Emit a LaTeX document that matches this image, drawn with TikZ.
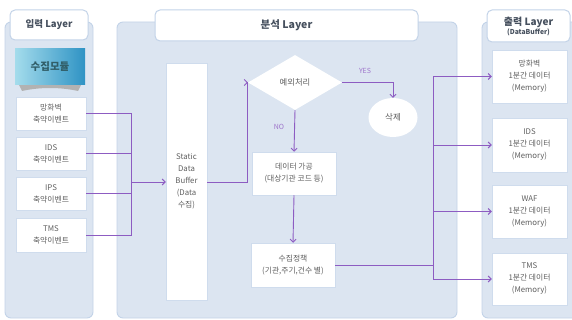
\documentclass[tikz,border=0pt]{standalone}
\usepackage{fontspec}
\setmainfont{Noto Sans CJK KR}
\usetikzlibrary{shapes.geometric,shadows,arrows.meta}
\definecolor{panelbg}{HTML}{DCE5F1}
\definecolor{panelbd}{HTML}{C3D3E8}
\definecolor{lineC}{HTML}{8D5CC2}
\definecolor{textC}{HTML}{5F5F5F}
\definecolor{titleC}{HTML}{46505E}
\definecolor{modL}{HTML}{A4DCEC}
\definecolor{modR}{HTML}{2F93C4}
\begin{document}
\begin{tikzpicture}[x=1pt,y=-1pt,
  panel/.style={draw=panelbd,fill=panelbg,rounded corners=6pt,line width=0.9pt},
  titlebox/.style={draw=panelbd,fill=white,rounded corners=5pt,line width=1pt,text=titleC,align=center,inner sep=0pt},
  wbox/.style={draw=panelbd!80,fill=white,line width=0.5pt,align=center,text=textC,inner sep=0pt,
     font=\fontsize{7.8}{12}\selectfont,
     drop shadow={shadow xshift=1.3pt,shadow yshift=-1.3pt,fill=black!40,opacity=0.6}},
  conn/.style={draw=lineC,line width=0.9pt},
  arr/.style={conn,-{Straight Barb[length=3pt,width=6pt]}},
  lbl/.style={text=lineC!85,font=\fontsize{7}{8}\selectfont,inner sep=0pt}
]
\useasboundingbox (0,0) rectangle (572,320);
% panels
\draw[panel] (5,22) rectangle (93,318);
\draw[panel] (117,22) rectangle (457,318);
\draw[panel] (482,22) rectangle (578,318);
% titles
\node[titlebox,minimum width=78pt,minimum height=30pt,font=\bfseries\fontsize{9.5}{11}\selectfont] (tL) at (49,25) {입력 Layer};
\node[titlebox,minimum width=263pt,minimum height=31pt,font=\bfseries\fontsize{10.5}{12}\selectfont] (tM) at (286.5,25.5) {분석 Layer};
\node[titlebox,minimum width=83pt,minimum height=32pt] (tR) at (528.5,26) {{\bfseries\fontsize{10}{11}\selectfont 출력 Layer}\\[-3pt]{\bfseries\fontsize{6.8}{8}\selectfont (DataBuffer)}};
% module
\fill[black!30] (19,85) -- (81,85) -- (78,91) .. controls (60,87) and (40,87) .. (22,91) -- cycle;
\node[draw=none,left color=modL,right color=modR,minimum width=70pt,minimum height=36pt,inner sep=0pt,
  text=titleC!70!teal,font=\bfseries\fontsize{10.5}{12}\selectfont] (mod) at (50,67) {수집모듈};
% input events
\node[wbox,minimum width=70pt,minimum height=33pt] (e1) at (51,113.5) {망화벽\\축약이벤트};
\node[wbox,minimum width=70pt,minimum height=33pt] (e2) at (51,153.5) {IDS\\축약이벤트};
\node[wbox,minimum width=70pt,minimum height=33pt] (e3) at (51,193.5) {IPS\\축약이벤트};
\node[wbox,minimum width=70pt,minimum height=34pt] (e4) at (51,235) {TMS\\축약이벤트};
% buffer
\node[wbox,minimum width=41pt,minimum height=237pt] (buf) at (186.5,181.5) {Static\\Data\\Buffer\\(Data\\수집)};
% flow
\node[diamond,fill=white,minimum width=94pt,minimum height=55pt,inner sep=0pt,text=textC,font=\fontsize{8.3}{10}\selectfont] (dia) at (295,82.5) {예외처리};
\node[ellipse,fill=white,minimum width=49pt,minimum height=39pt,inner sep=0pt,text=textC,font=\fontsize{8.5}{10}\selectfont] (del) at (393,117.5) {삭제};
\node[wbox,minimum width=84pt,minimum height=43pt] (proc) at (294,173.5) {데이터 가공\\(대상기관 코드 등)};
\node[wbox,minimum width=84pt,minimum height=44pt] (pol) at (293,265) {수집정책\\(기관,주기,건수 별)};
% outputs
\node[wbox,minimum width=75pt,minimum height=53pt] (o1) at (529.5,76.5) {망화벽\\1분간 데이터\\(Memory)};
\node[wbox,minimum width=75pt,minimum height=54pt] (o2) at (529.5,145) {IDS\\1분간 데이터\\(Memory)};
\node[wbox,minimum width=75pt,minimum height=53pt] (o3) at (529.5,211.5) {WAF\\1분간 데이터\\(Memory)};
\node[wbox,minimum width=75pt,minimum height=52pt] (o4) at (529.5,279) {TMS\\1분간 데이터\\(Memory)};
% connectors input
\coordinate (tin) at (131,182);
\draw[conn] (e1.east) -| (tin);
\draw[conn] (e2.east) -| (tin);
\draw[conn] (e3.east) -| (tin);
\draw[conn] (e4.east) -| (tin);
\draw[arr] (tin) -- (buf.west |- tin);
\draw[arr] (buf.east |- tin) -- ++(40,0) |- (dia.west);
\draw[arr] (dia.east) -| (del.north);
\node[lbl] (yes) at (365,71) {YES};
\draw[arr] (dia.south) -- (proc.north);
\node[lbl] (no) at (279,127) {NO};
\draw[arr] (proc.south) -- (pol.north);
% outputs connectors
\coordinate (tout) at (433,265);
\draw[conn] (pol.east) -- (tout);
\draw[arr] (tout) |- (o1.west);
\draw[arr] (tout) |- (o2.west);
\draw[arr] (tout) |- (o3.west);
\draw[arr] (tout) |- (o4.west);
\end{tikzpicture}
\end{document}
